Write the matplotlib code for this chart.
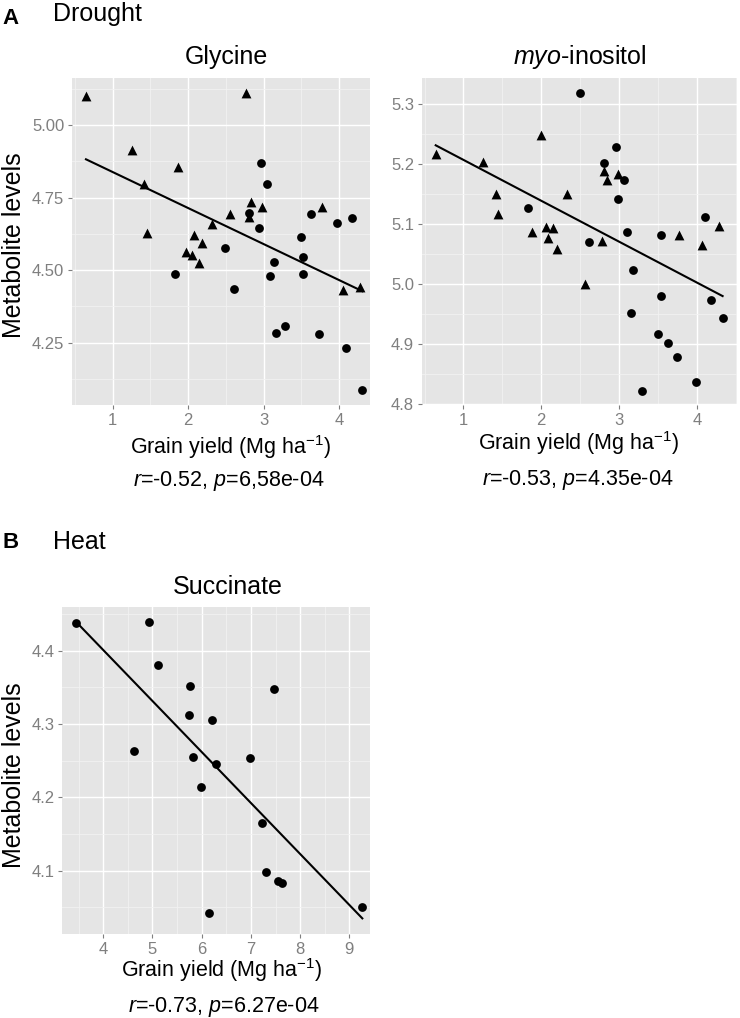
import numpy as np
import matplotlib
matplotlib.use("Agg")
import matplotlib.pyplot as plt
from matplotlib.ticker import MultipleLocator, FormatStrFormatter

plt.rcParams['font.family'] = ['Liberation Sans', 'DejaVu Sans']
plt.rcParams['mathtext.fontset'] = 'custom'
plt.rcParams['mathtext.rm'] = 'Liberation Sans'
plt.rcParams['mathtext.it'] = 'Liberation Sans:italic'

# Drought - Glycine (o = circle, ^ = triangle)
gly_x = [0.646, 2.77, 1.25, 1.87, 1.415, 2.83, 2.98, 3.77, 2.55, 2.80, 2.32, 1.45, 2.08,
         2.19, 1.97, 2.05, 2.15, 4.05, 4.275,
         2.80, 2.97, 3.05, 2.94, 3.63, 3.975, 4.165, 3.49, 2.49, 1.825, 2.61, 3.14,
         3.08, 3.52, 3.52, 3.17, 3.28, 3.74, 4.09, 4.31]
gly_y = [5.100, 5.111, 4.914, 4.856, 4.796, 4.734, 4.719, 4.719, 4.694, 4.684, 4.658, 4.629, 4.621,
         4.593, 4.564, 4.553, 4.524, 4.432, 4.441,
         4.696, 4.870, 4.796, 4.646, 4.692, 4.664, 4.679, 4.615, 4.578, 4.486, 4.436, 4.528,
         4.480, 4.545, 4.486, 4.283, 4.306, 4.279, 4.232, 4.088]
gly_shape = ['^'] * 19 + ['o'] * 20

# Drought - myo-inositol
myo_x = [0.643, 1.255, 1.99, 2.806, 2.84, 2.99, 1.418, 2.326, 1.447, 4.28, 1.877, 2.056,
         2.146, 2.09, 3.77, 2.776, 2.198, 4.07, 2.56,
         2.50, 2.956, 2.80, 3.067, 2.98, 1.825, 4.10, 3.10, 3.54, 2.617, 3.18, 3.54,
         3.15, 4.18, 4.33, 3.50, 3.63, 3.74, 3.985, 3.29]
myo_y = [5.217, 5.204, 5.248, 5.189, 5.174, 5.183, 5.150, 5.150, 5.117, 5.097, 5.087, 5.095,
         5.093, 5.076, 5.081, 5.071, 5.059, 5.065, 5.000,
         5.318, 5.229, 5.201, 5.174, 5.141, 5.126, 5.112, 5.086, 5.081, 5.070, 5.023, 4.980,
         4.951, 4.973, 4.943, 4.916, 4.902, 4.878, 4.837, 4.822]
myo_shape = ['^'] * 19 + ['o'] * 20

# Heat - Succinate
suc_x = [3.445, 4.92, 5.12, 5.76, 7.476, 5.74, 6.215, 4.62, 5.83, 6.29, 6.98,
         5.98, 7.22, 7.307, 7.545, 7.64, 9.264, 6.15]
suc_y = [4.438, 4.439, 4.380, 4.352, 4.348, 4.312, 4.305, 4.263, 4.255, 4.246, 4.253,
         4.214, 4.165, 4.0985, 4.086, 4.083, 4.050, 4.042]

W, H = 740, 1018
fig = plt.figure(figsize=(W / 100, H / 100), dpi=100)


def rect(l, t, r, b):
    return [l / W, 1 - b / H, (r - l) / W, (b - t) / H]


def ftext(x, y, s, **kw):
    fig.text(x / W, 1 - y / H, s, **kw)


def panel(box, x, y, shapes, xlim, ylim, xmaj, ymaj, yfmt):
    ax = fig.add_axes(box)
    ax.set_facecolor('#E5E5E5')
    ax.set_xlim(xlim)
    ax.set_ylim(ylim)
    ax.xaxis.set_major_locator(MultipleLocator(xmaj))
    ax.xaxis.set_minor_locator(MultipleLocator(xmaj / 2))
    ax.yaxis.set_major_locator(MultipleLocator(ymaj))
    ax.yaxis.set_minor_locator(MultipleLocator(ymaj / 2))
    ax.yaxis.set_major_formatter(FormatStrFormatter(yfmt))
    ax.grid(which='major', color='white', lw=1.0)
    ax.grid(which='minor', color='#F2F2F2', lw=0.6)
    ax.set_axisbelow(True)
    for s in ax.spines.values():
        s.set_visible(False)
    ax.tick_params(which='major', length=3, width=0.8, color='#7F7F7F',
                   labelcolor='#7F7F7F', labelsize=12, pad=2.5)
    ax.tick_params(which='minor', length=0)
    x = np.array(x)
    y = np.array(y)
    sh = np.array(shapes)
    for m, size in (('o', 40), ('^', 50)):
        sel = sh == m
        if sel.any():
            ax.scatter(x[sel], y[sel], marker=m, s=size, color='black', lw=0, zorder=3)
    k, c = np.polyfit(x, y, 1)
    xs = np.array([x.min(), x.max()])
    ax.plot(xs, k * xs + c, color='black', lw=1.5, zorder=2)
    return ax


panel(rect(72, 78.3, 370, 405), gly_x, gly_y, gly_shape,
      (0.461, 4.41), (4.0355, 5.161), 1, 0.25, '%.2f')
panel(rect(421.7, 78.3, 737, 405), myo_x, myo_y, myo_shape,
      (0.463, 4.515), (4.798, 5.343), 1, 0.1, '%.1f')
panel(rect(62.3, 606.7, 370, 934), suc_x, suc_y, ['o'] * len(suc_x),
      (3.167, 9.42), (4.0135, 4.460), 1, 0.1, '%.1f')

# panel letters and headings
ftext(2, 24, 'A', fontsize=16, fontweight='bold', va='baseline')
ftext(53, 21, 'Drought', fontsize=18, va='baseline')
ftext(2, 548, 'B', fontsize=16, fontweight='bold', va='baseline')
ftext(53, 549, 'Heat', fontsize=18, va='baseline')

# panel titles
ftext(226, 64, 'Glycine', fontsize=18, ha='center', va='baseline')
ftext(580, 64, '$\\mathit{myo}$-inositol', fontsize=18, ha='center', va='baseline')
ftext(228, 594, 'Succinate', fontsize=18, ha='center', va='baseline')

# axis labels
xl = 'Grain yield (Mg ha$^{\\mathregular{-1}}$)'
ftext(231, 454, xl, fontsize=15.5, ha='center', va='baseline')
ftext(579, 450, xl, fontsize=15.5, ha='center', va='baseline')
ftext(222, 977, xl, fontsize=15.5, ha='center', va='baseline')

ftext(229, 486, '$\\mathit{r}$=-0.52, $\\mathit{p}$=6,58e-04', fontsize=15.5, ha='center', va='baseline')
ftext(578, 485, '$\\mathit{r}$=-0.53, $\\mathit{p}$=4.35e-04', fontsize=15.5, ha='center', va='baseline')
ftext(224, 1012, '$\\mathit{r}$=-0.73, $\\mathit{p}$=6.27e-04', fontsize=15.5, ha='center', va='baseline')

for yc in (245, 775):
    fig.text(21 / W, 1 - yc / H, 'Metabolite levels', fontsize=18, rotation=90,
             rotation_mode='anchor', ha='center', va='baseline')

fig.savefig('out.png', dpi=100)
